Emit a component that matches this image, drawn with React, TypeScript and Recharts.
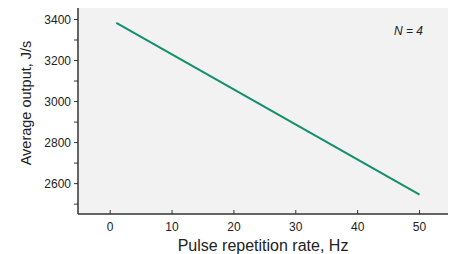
import React from 'react';
import { LineChart, Line, XAxis, YAxis, CartesianGrid, Label } from 'recharts';

const rates = [1, 50];
const outputs = [3383, 2546];
const xTicks = [0, 10, 20, 30, 40, 50];
const yTicks = [2500, 2600, 2700, 2800, 2900, 3000, 3100, 3200, 3300, 3400];

const data = rates.map((r, i) => ({ rate: r, output: outputs[i] }));

const font = '"Liberation Sans", Arial, sans-serif';

const XTick = (props: any) => {
  const { x, y, payload } = props;
  return (
    <g>
      <line x1={x} x2={x} y1={y} y2={y - 4} stroke="#333" strokeWidth={1} />
      <text x={x} y={y + 17} textAnchor="middle" fontSize={12} fontFamily={font} fill="#222">
        {payload.value}
      </text>
    </g>
  );
};

const YLabel = (props: any) => {
  const { viewBox } = props;
  const cx = viewBox.x + 26;
  const cy = viewBox.y + viewBox.height / 2 - 8;
  return (
    <text
      x={cx}
      y={cy}
      transform={`rotate(-90, ${cx}, ${cy})`}
      textAnchor="middle"
      dominantBaseline="central"
      fontSize={14.5}
      fontFamily={font}
      fill="#222"
    >
      Average output, J/s
    </text>
  );
};

const App: React.FC = () => {
  return (
    <div style={{ position: 'absolute', left: 0, top: 0, width: 452, height: 254, background: '#fff' }}>
      <LineChart width={452} height={254} data={data} margin={{ top: 8, right: 4, left: 0, bottom: 0 }}>
        <CartesianGrid horizontal={false} vertical={false} fill="#f2f2f2" />
        <XAxis
          xAxisId="top"
          orientation="top"
          dataKey="rate"
          type="number"
          domain={[-5.2, 54.6]}
          height={0}
          tick={false}
          tickLine={false}
          axisLine={{ stroke: '#999', strokeWidth: 1 }}
        />
        <YAxis
          yAxisId="right"
          orientation="right"
          type="number"
          domain={[2452, 3456]}
          width={0}
          tick={false}
          tickLine={false}
          axisLine={{ stroke: '#999', strokeWidth: 1 }}
        />
        <XAxis
          dataKey="rate"
          type="number"
          domain={[-5.2, 54.6]}
          ticks={xTicks}
          height={40}
          tickLine={false}
          tickSize={0}
          tickMargin={0}
          tick={<XTick />}
          axisLine={{ stroke: '#333', strokeWidth: 1.5 }}
        >
          <Label
            value="Pulse repetition rate, Hz"
            position="insideBottom"
            offset={3}
            style={{ fontSize: 16, fontFamily: font, fill: '#222' }}
          />
        </XAxis>
        <YAxis
          type="number"
          domain={[2452, 3456]}
          ticks={yTicks}
          interval={0}
          width={78}
          tickSize={4}
          tickMargin={3}
          tickFormatter={(v: number) => (v % 200 === 0 ? String(v) : '')}
          tick={{ fontSize: 12, fontFamily: font, fill: '#222' }}
          tickLine={{ stroke: '#333', strokeWidth: 1 }}
          axisLine={{ stroke: '#333', strokeWidth: 1.5 }}
        >
          <Label content={<YLabel />} />
        </YAxis>
        <Line
          type="linear"
          dataKey="output"
          stroke="#11906a"
          strokeWidth={2}
          dot={false}
          isAnimationActive={false}
        />
      </LineChart>
      <div
        style={{
          position: 'absolute',
          left: 394,
          top: 24,
          fontFamily: font,
          fontStyle: 'italic',
          fontSize: 12,
          color: '#222',
          whiteSpace: 'nowrap',
        }}
      >
        N = 4
      </div>
    </div>
  );
};

export default App;
